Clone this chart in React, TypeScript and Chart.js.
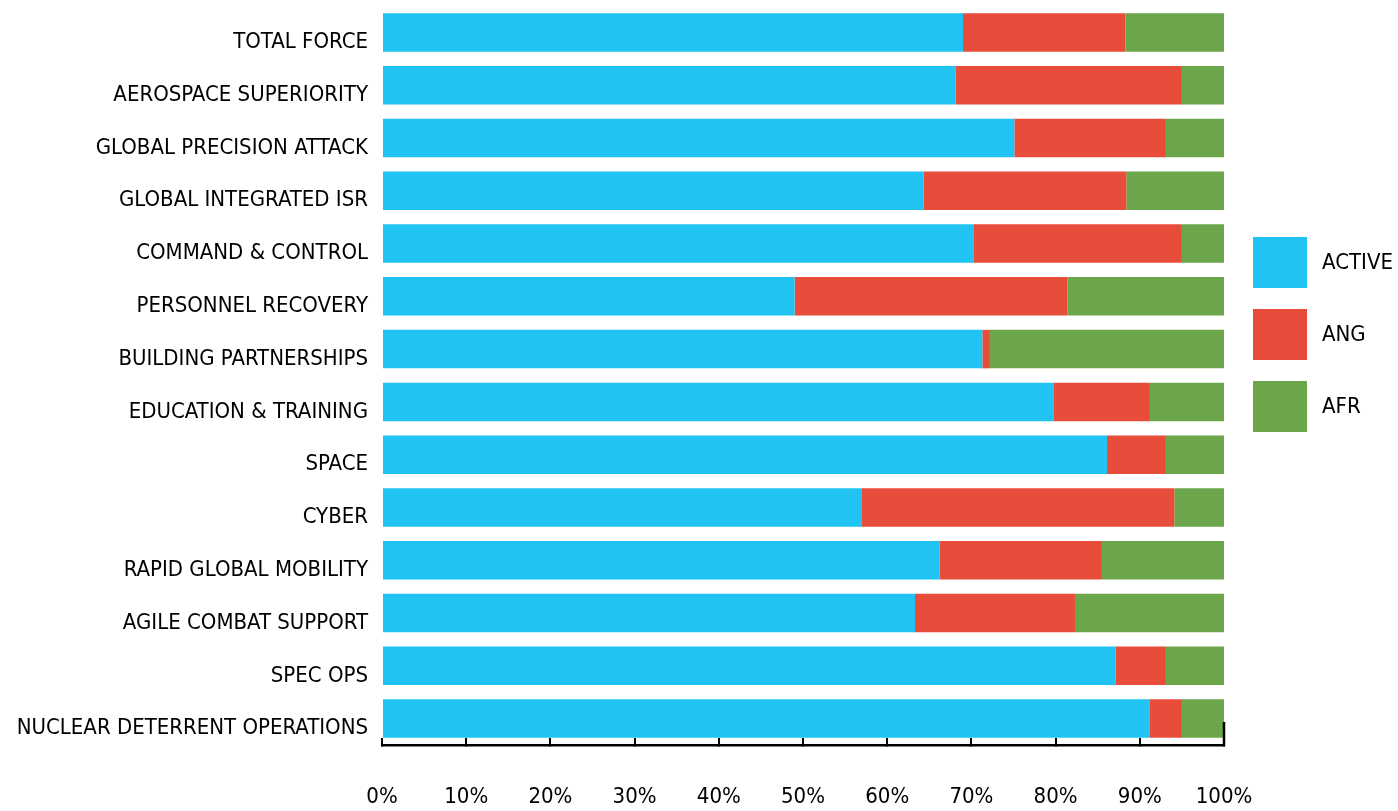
import React, { useEffect, useRef } from "react";
import { Chart, registerables } from "chart.js";

Chart.register(...registerables);

const categories = [
  "TOTAL FORCE",
  "AEROSPACE SUPERIORITY",
  "GLOBAL PRECISION ATTACK",
  "GLOBAL INTEGRATED ISR",
  "COMMAND & CONTROL",
  "PERSONNEL RECOVERY",
  "BUILDING PARTNERSHIPS",
  "EDUCATION & TRAINING",
  "SPACE",
  "CYBER",
  "RAPID GLOBAL MOBILITY",
  "AGILE COMBAT SUPPORT",
  "SPEC OPS",
  "NUCLEAR DETERRENT OPERATIONS",
];

const activeValues = [69.0, 68.1, 75.1, 64.3, 70.3, 49.0, 71.3, 79.8, 86.1, 57.0, 66.2, 63.3, 87.1, 91.2];
const angValues = [19.3, 26.9, 18.0, 24.1, 24.7, 32.4, 0.9, 11.4, 7.0, 37.1, 19.3, 19.0, 6.0, 3.8];
const afrValues = [11.7, 5.0, 6.9, 11.6, 5.0, 18.6, 27.8, 8.8, 6.9, 5.9, 14.5, 17.7, 6.9, 5.0];

const seriesNames = ["ACTIVE", "ANG", "AFR"];
const seriesColors = ["#21C3F3", "#E84C3A", "#6BA64A"];

const xTickValues = [0, 10, 20, 30, 40, 50, 60, 70, 80, 90, 100];

const FONT_FAMILY = '"Liberation Sans Narrow", "DejaVu Sans Condensed", "Roboto Condensed", "Liberation Sans", sans-serif';

const customLegendAndFrame = {
  id: "customLegendAndFrame",
  afterDraw(chart: any) {
    const { ctx, chartArea } = chart;
    const xScale = chart.scales.x;
    ctx.save();
    const xr = xScale.getPixelForValue(100);
    ctx.strokeStyle = "#000";
    ctx.lineWidth = 2.5;
    ctx.beginPath();
    ctx.moveTo(xr, chartArea.bottom - 23);
    ctx.lineTo(xr, chartArea.bottom + 1);
    ctx.stroke();
    const boxX = chartArea.right + 29;
    const textX = chartArea.right + 98;
    ctx.font = `22px ${FONT_FAMILY}`;
    ctx.textBaseline = "middle";
    ctx.textAlign = "left";
    chart.data.datasets.forEach((ds: any, i: number) => {
      const top = 237 + i * 72;
      ctx.fillStyle = ds.backgroundColor;
      ctx.fillRect(boxX, top, 54, 51);
      ctx.fillStyle = "#000";
      ctx.fillText(ds.label, textX, top + 26);
    });
    ctx.restore();
  },
};

export default function App() {
  const canvasRef = useRef<HTMLCanvasElement | null>(null);

  useEffect(() => {
    if (!canvasRef.current) return;
    const seriesData = [activeValues, angValues, afrValues];
    const chart = new Chart(canvasRef.current, {
      type: "bar",
      data: {
        labels: categories,
        datasets: seriesNames.map((name, i) => ({
          label: name,
          data: seriesData[i],
          backgroundColor: seriesColors[i],
          borderWidth: 0,
          barPercentage: 0.73,
          categoryPercentage: 1,
        })),
      },
      options: {
        indexAxis: "y",
        responsive: false,
        animation: false,
        layout: { padding: { top: 6, right: 174, left: 0, bottom: 0 } },
        plugins: {
          legend: { display: false },
          tooltip: { enabled: false },
        },
        scales: {
          x: {
            stacked: true,
            min: 0,
            max: 100,
            afterBuildTicks: (scale: any) => {
              scale.ticks = xTickValues.map((v) => ({ value: v }));
            },
            afterFit: (scale: any) => {
              scale.height = 66;
              scale.paddingLeft = 0;
              scale.paddingRight = 0;
            },
            ticks: {
              callback: (v: any) => `${v}%`,
              font: { family: FONT_FAMILY, size: 22 },
              color: "#000",
              padding: 46,
              maxRotation: 0,
              autoSkip: false,
            },
            grid: {
              drawOnChartArea: false,
              drawTicks: true,
              tickLength: -7,
              color: "#000",
              lineWidth: 2,
            },
            border: { display: true, color: "#000", width: 2.5 },
          },
          y: {
            stacked: true,
            afterFit: (scale: any) => {
              scale.width = 382;
              scale.paddingTop = 0;
              scale.paddingBottom = 0;
            },
            ticks: {
              font: { family: FONT_FAMILY, size: 22 },
              color: "#000",
              padding: 14,
              labelOffset: 10,
              autoSkip: false,
            },
            grid: { display: false, drawTicks: false },
            border: { display: false },
          },
        },
      },
      plugins: [customLegendAndFrame],
    } as any);
    return () => chart.destroy();
  }, []);

  return (
    <div style={{ position: "absolute", left: 0, top: 0, width: 1398, height: 811, background: "#fff" }}>
      <canvas ref={canvasRef} width={1398} height={811} style={{ display: "block" }} />
    </div>
  );
}
